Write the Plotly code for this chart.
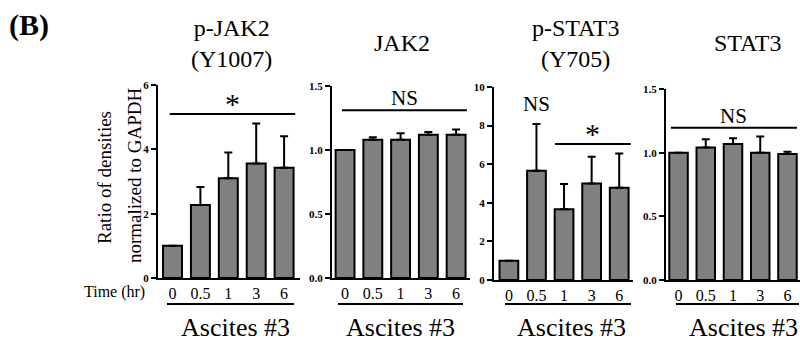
import plotly.graph_objects as go

W, H = 800, 341
FONT = "Liberation Serif, Times New Roman, DejaVu Serif, serif"

time_labels = ["0", "0.5", "1", "3", "6"]
panel_titles = ["p-JAK2<br>(Y1007)", "JAK2", "p-STAT3<br>(Y705)", "STAT3"]

pjak2_mean = [1.0, 2.27, 3.10, 3.56, 3.43]
pjak2_upper = [1.0, 2.83, 3.90, 4.80, 4.41]
jak2_mean = [1.0, 1.08, 1.08, 1.12, 1.12]
jak2_upper = [1.0, 1.10, 1.13, 1.14, 1.16]
pstat3_mean = [1.0, 5.66, 3.67, 5.0, 4.78]
pstat3_upper = [1.0, 8.08, 4.97, 6.39, 6.56]
stat3_mean = [1.0, 1.04, 1.068, 1.0, 0.99]
stat3_upper = [1.0, 1.105, 1.113, 1.126, 1.008]

y_ranges = [[0, 6], [0, 1.5], [0, 10], [0, 1.5]]
y_ticks = [[0, 2, 4, 6], [0, 0.5, 1.0, 1.5], [0, 2, 4, 6, 8, 10], [0, 0.5, 1.0, 1.5]]
y_ticktext = [["0", "2", "4", "6"], ["0.0", "0.5", "1.0", "1.5"],
              ["0", "2", "4", "6", "8", "10"], ["0.0", "0.5", "1.0", "1.5"]]

# significance annotations: (label, x0, x1, y)
sig_marks = [("*", -0.1, 4.4, 5.1), ("NS", -0.11, 4.39, 1.31),
             ("*", 1.67, 4.42, 7.05), ("NS", -0.28, 4.35, 1.196)]
ns_single = ("NS", 1, 8.4)  # panel 3 label above 0.5 hr bar

means = [pjak2_mean, jak2_mean, pstat3_mean, stat3_mean]
uppers = [pjak2_upper, jak2_upper, pstat3_upper, stat3_upper]

# layout geometry in pixels
x_dom_px = [(158, 300), (332, 470), (494, 633), (666, 800)]
x_rng = [[-0.52, 4.57], [-0.47, 4.5], [-0.54, 4.5], [-0.46, 4.46]]
y_dom_px = [(85, 278), (86, 278), (87, 280), (89, 280)]
title_cx = [232, 402, 575, 747]
title_cy = [43, 43, 43, 43]
under_px = [(167, 294), (338, 463), (505, 631), (676, 799)]
ascites_cx = [235, 400, 571, 743]

def px(x):
    return x / W

def py(y):
    return 1 - y / H

fig = go.Figure()
layout = dict(width=W, height=H, margin=dict(l=0, r=0, t=0, b=0, autoexpand=False),
              paper_bgcolor="white", plot_bgcolor="white", showlegend=False,
              font=dict(family=FONT, color="black"))
annotations = []
shapes = []

def ann(text, x, y, xref="paper", yref="paper", size=16, **kw):
    d = dict(text=text, x=x, y=y, xref=xref, yref=yref, showarrow=False,
             xanchor="center", yanchor="middle",
             font=dict(family=FONT, size=size, color="black"))
    d.update(kw)
    annotations.append(d)

for i in range(4):
    n = "" if i == 0 else str(i + 1)
    xa, ya = "x" + n, "y" + n
    xs = list(range(5))
    err = [u - m for u, m in zip(uppers[i], means[i])]
    fig.add_trace(go.Bar(
        x=xs, y=means[i], xaxis=xa, yaxis=ya, width=0.68,
        marker=dict(color="#808080", line=dict(color="black", width=2)),
        error_y=dict(type="data", array=err, arrayminus=[0] * 5, symmetric=False,
                     color="black", thickness=2, width=4),
    ))
    layout["xaxis" + n] = dict(
        domain=[px(x_dom_px[i][0]), px(x_dom_px[i][1])], range=x_rng[i],
        anchor=ya, showline=True, linecolor="black", linewidth=2,
        showgrid=False, zeroline=False, ticks="", tickvals=xs, ticktext=time_labels,
        tickfont=dict(family=FONT, size=16, color="black"), fixedrange=True)
    layout["yaxis" + n] = dict(
        domain=[py(y_dom_px[i][1]), py(y_dom_px[i][0])], range=y_ranges[i],
        anchor=xa, showline=True, linecolor="black", linewidth=2,
        showgrid=False, zeroline=False, ticks="outside", ticklen=5, tickwidth=2,
        tickcolor="black", tickvals=y_ticks[i], ticktext=y_ticktext[i],
        tickfont=dict(family=FONT, size=11, color="black", weight="bold"),
        ticklabelstandoff=0)
    ann(panel_titles[i], px(title_cx[i]), py(title_cy[i]), size=24)
    lab, x0, x1, yv = sig_marks[i]
    shapes.append(dict(type="line", xref=xa, yref=ya, x0=x0, x1=x1, y0=yv, y1=yv,
                       line=dict(color="black", width=2)))
    if lab == "*":
        ann("*", (x0 + x1) / 2, yv, xref=xa, yref=ya, size=30, yanchor="bottom", yshift=-8)
    else:
        ann(lab, (x0 + x1) / 2, yv, xref=xa, yref=ya, size=21, yanchor="bottom", yshift=-2)
    shapes.append(dict(type="line", xref="paper", yref="paper",
                       x0=px(under_px[i][0]), x1=px(under_px[i][1]), y0=py(304), y1=py(304),
                       line=dict(color="black", width=2)))
    ann("Ascites #3", px(ascites_cx[i]), py(327), size=26)

ann(ns_single[0], ns_single[1], ns_single[2], xref="x3", yref="y3", size=21, yanchor="bottom")
ann("<b>(B)</b>", px(7), py(25), size=30, xanchor="left")
ann("Time (hr)", px(115), py(292), size=16)
ann("Ratio of densities", px(104), py(178), size=19, textangle=-90)
ann("normalized to GAPDH", px(134), py(176), size=19, textangle=-90)

layout["annotations"] = annotations
layout["shapes"] = shapes
fig.update_layout(**layout)
fig.write_html("out.html", config={"displayModeBar": False},
               post_script="document.body.style.margin='0px';document.body.style.overflow='hidden';")
